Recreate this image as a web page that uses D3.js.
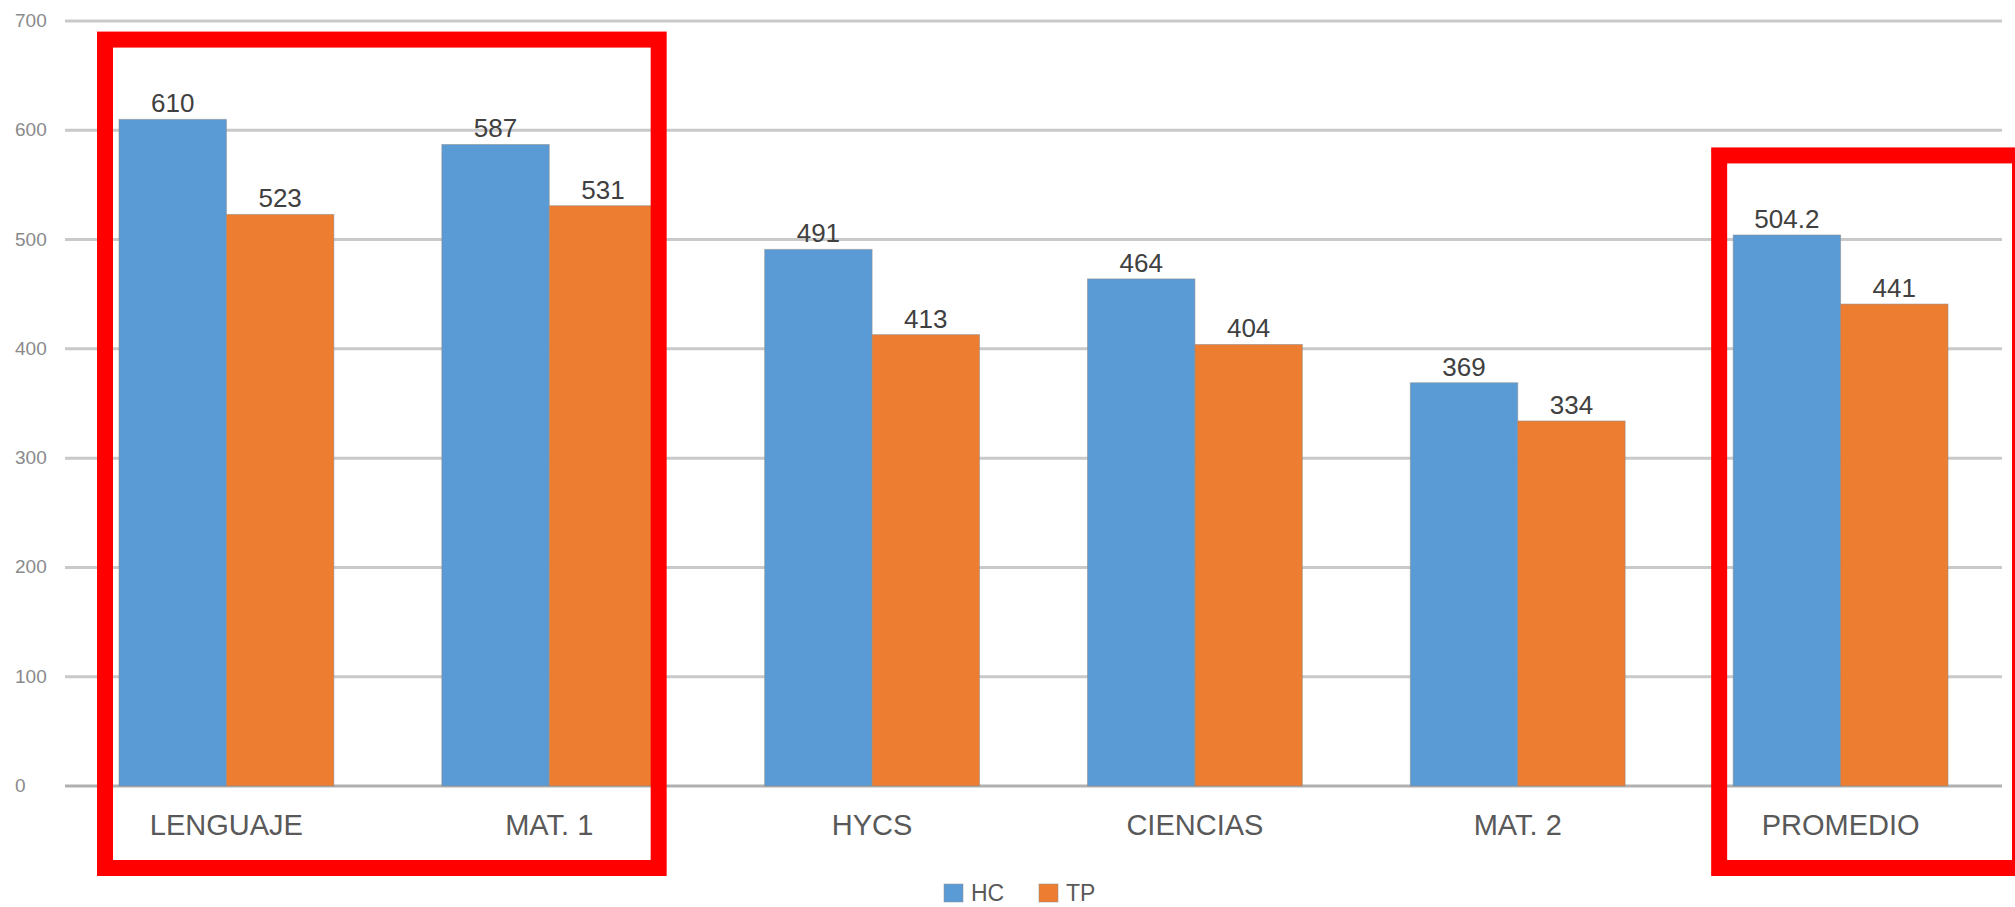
<!DOCTYPE html>
<html>
<head>
<meta charset="utf-8">
<script src="https://cdn.jsdelivr.net/npm/d3@7"></script>
<style>
  html, body { margin: 0; padding: 0; background: #ffffff; }
  svg { display: block; }
  text { font-family: "Liberation Sans", Arial, sans-serif; }
</style>
</head>
<body>
<svg id="chart" width="2015" height="907"></svg>
<script>
// ---- data ----
const categories = ["LENGUAJE", "MAT. 1", "HYCS", "CIENCIAS", "MAT. 2", "PROMEDIO"];
const seriesNames = ["HC", "TP"];
const hcValues = [610, 587, 491, 464, 369, 504.2];
const tpValues = [523, 531, 413, 404, 334, 441];
const yTicks = [0, 100, 200, 300, 400, 500, 600, 700];
const colors = ["#5B9BD5", "#ED7D31"];
// highlight boxes: [first category, last category, top value]
const highlightFrom = ["LENGUAJE", "PROMEDIO"];
const highlightTo = ["MAT. 1", "PROMEDIO"];
const highlightTop = [683, 577];

// ---- layout ----
const W = 2015, H = 907;
const plotLeft = 65, plotRight = 2002;
const y0px = 786, y700px = 21;

const svg = d3.select("#chart");

const x = d3.scaleBand().domain(categories).range([plotLeft, plotRight]).paddingInner(0).paddingOuter(0);
const y = d3.scaleLinear().domain([0, 700]).range([y0px, y700px]);
const innerPad = 54;
const xs = d3.scaleBand().domain(seriesNames)
  .range([innerPad, x.bandwidth() - innerPad]).padding(0);

// gridlines
svg.append("g").selectAll("line").data(yTicks).join("line")
  .attr("x1", plotLeft).attr("x2", plotRight)
  .attr("y1", d => y(d)).attr("y2", d => y(d))
  .attr("stroke", d => d === 0 ? "#b0b0b0" : "#c9c9c9")
  .attr("stroke-width", 3);

// y tick labels
svg.append("g").selectAll("text").data(yTicks).join("text")
  .attr("x", 15).attr("y", d => y(d) + 1)
  .attr("dominant-baseline", "middle")
  .attr("font-size", 19)
  .attr("fill", "#8a8a8a")
  .text(d => d);

// bars
const rows = categories.map((c, i) => ({ cat: c, vals: [hcValues[i], tpValues[i]] }));
const groups = svg.append("g").selectAll("g").data(rows).join("g")
  .attr("transform", d => `translate(${x(d.cat)},0)`);

groups.selectAll("rect").data(d => d.vals.map((v, j) => ({ key: seriesNames[j], v, j })))
  .join("rect")
  .attr("x", d => xs(d.key))
  .attr("width", xs.bandwidth())
  .attr("y", d => y(d.v))
  .attr("height", d => y(0) - y(d.v))
  .attr("fill", d => colors[d.j])
  .attr("stroke", "#8c8c8c")
  .attr("stroke-opacity", 0.55)
  .attr("stroke-width", 1);

groups.selectAll("text").data(d => d.vals.map((v, j) => ({ key: seriesNames[j], v, j })))
  .join("text")
  .attr("x", d => xs(d.key) + xs.bandwidth() / 2)
  .attr("y", d => y(d.v) - 7)
  .attr("text-anchor", "middle")
  .attr("font-size", 26)
  .attr("fill", "#404040")
  .text(d => d.v);

// category labels
svg.append("g").selectAll("text").data(categories).join("text")
  .attr("x", d => x(d) + x.bandwidth() / 2)
  .attr("y", 835)
  .attr("text-anchor", "middle")
  .attr("font-size", 29)
  .attr("fill", "#595959")
  .text(d => d);

// legend
const legendX = [944, 1039];
const legend = svg.append("g").selectAll("g").data(seriesNames).join("g")
  .attr("transform", (d, i) => `translate(${legendX[i]},884)`);
legend.append("rect").attr("width", 19).attr("height", 18)
  .attr("fill", (d, i) => colors[i]).attr("stroke", "#8c8c8c").attr("stroke-opacity", 0.5);
legend.append("text").attr("x", 27).attr("y", 17)
  .attr("font-size", 23).attr("fill", "#595959").text(d => d);

// red highlight boxes (annotations)
const boxData = highlightFrom.map((f, i) => ({ from: f, to: highlightTo[i], top: highlightTop[i] }));
svg.append("g").selectAll("rect").data(boxData).join("rect")
  .attr("x", d => x(d.from) + 40)
  .attr("y", d => y(d.top))
  .attr("width", d => (x(d.to) + x.bandwidth() - 52) - (x(d.from) + 40) + (d.to === "PROMEDIO" ? 70 : 0))
  .attr("height", d => 868 - y(d.top))
  .attr("fill", "none")
  .attr("stroke", "#ff0000")
  .attr("stroke-width", 16);
</script>
</body>
</html>
